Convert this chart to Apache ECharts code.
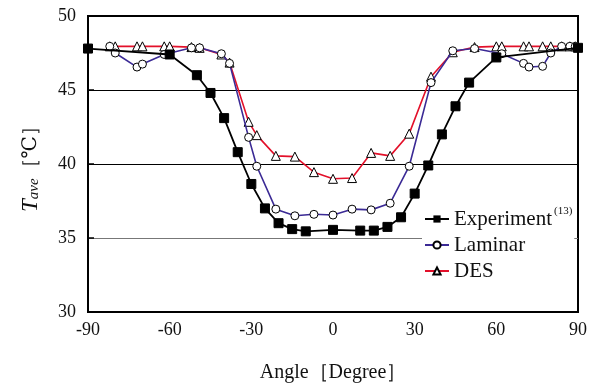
<!DOCTYPE html>
<html><head><meta charset="utf-8">
<script src="https://cdn.jsdelivr.net/npm/echarts@6/dist/echarts.min.js"></script>
<style>html,body{margin:0;padding:0;background:#fff}#c{width:590px;height:390px}</style>
</head><body><div id="c"></div>
<script>
var xTicks = [-90, -60, -30, 0, 30, 60, 90];
var yTicks = [30, 35, 40, 45, 50];

var expAngles = [-90, -60, -50, -45, -40, -35, -30, -25, -20, -15, -10, 0, 10, 15, 20, 25, 30, 35, 40, 45, 50, 60, 90];
var expValues = [47.8, 47.4, 46.0, 44.8, 43.1, 40.8, 38.65, 37.0, 36.0, 35.6, 35.45, 35.55, 35.5, 35.5, 35.75, 36.4, 38.0, 39.9, 42.0, 43.9, 45.5, 47.2, 47.85];

var lamAngles = [-82, -80, -72, -70, -62, -52, -49, -41, -38, -31, -28, -21, -14, -7, 0, 7, 14, 21, 28, 36, 44, 52, 62, 70, 72, 77, 80, 84, 87, 89];
var lamValues = [47.95, 47.5, 46.55, 46.75, 47.4, 47.85, 47.85, 47.45, 46.8, 41.8, 39.85, 36.95, 36.5, 36.6, 36.55, 36.95, 36.9, 37.35, 39.85, 45.5, 47.65, 47.8, 47.45, 46.8, 46.55, 46.6, 47.5, 47.95, 47.95, 47.95];

var desAngles = [-82, -80, -72, -70, -62, -60, -52, -49, -41, -38, -31, -28, -21, -14, -7, 0, 7, 14, 21, 28, 36, 44, 52, 60, 62, 70, 72, 77, 80, 84, 87, 89];
var desValues = [47.95, 47.95, 47.95, 47.95, 47.95, 47.95, 47.9, 47.85, 47.4, 46.85, 42.85, 41.95, 40.55, 40.5, 39.45, 39.0, 39.05, 40.75, 40.55, 42.05, 45.9, 47.55, 47.9, 47.95, 47.95, 47.95, 47.95, 47.95, 47.95, 47.95, 47.95, 47.95];

function zip(a, b) { return a.map(function (v, i) { return [v, b[i]]; }); }

var FONT = '"Liberation Serif", "DejaVu Serif", serif';
var chart = echarts.init(document.getElementById('c'), null, {renderer: 'canvas'});
chart.setOption({
  animation: false,
  backgroundColor: '#fff',
  textStyle: {fontFamily: FONT},
  grid: {left: 88, right: 7, top: 16, bottom: 78, show: true, borderColor: '#000', borderWidth: 2, backgroundColor: 'transparent'},
  legend: {
    orient: 'vertical', left: 422, top: 204, itemGap: 5,
    itemWidth: 24, itemHeight: 9, backgroundColor: '#fff', padding: [2, 2, 2, 2],
    textStyle: {fontFamily: FONT, fontSize: 21, color: '#111',
      rich: {sup: {fontFamily: FONT, fontSize: 11, color: '#111', verticalAlign: 'top', padding: [0, 0, 15, 2]}}},
    formatter: function (n) { return n === 'Experiment' ? 'Experiment{sup|(13)}' : n; },
    data: ['Experiment', 'Laminar', 'DES']
  },
  xAxis: {
    type: 'value', min: xTicks[0], max: xTicks[xTicks.length - 1], interval: 30,
    name: 'Angle［Degree］', nameLocation: 'middle', nameGap: 51,
    nameTextStyle: {fontFamily: FONT, fontSize: 20, color: '#111'},
    axisLine: {onZero: false, lineStyle: {color: '#000', width: 2}},
    axisTick: {show: false},
    splitLine: {show: false},
    axisLabel: {fontFamily: FONT, fontSize: 18, color: '#111', margin: 9}
  },
  yAxis: {
    type: 'value', min: yTicks[0], max: yTicks[yTicks.length - 1], interval: 5,
    name: '{t|T}{s|ave}{n|［℃］}', nameLocation: 'middle', nameGap: 46, nameRotate: 90,
    nameTextStyle: {rich: {
      t: {fontFamily: FONT, fontSize: 23, fontStyle: 'italic', color: '#111'},
      s: {fontFamily: FONT, fontSize: 15, fontStyle: 'italic', color: '#111', verticalAlign: 'bottom', padding: [8, 0, 0, 0]},
      n: {fontFamily: FONT, fontSize: 20, color: '#111'}
    }},
    axisLine: {onZero: false, lineStyle: {color: '#000', width: 2}},
    axisTick: {show: true, inside: true, length: 6, lineStyle: {color: '#000', width: 1.5}},
    splitLine: {show: true, lineStyle: {color: ['#000', '#777', '#000', '#000', '#000'], width: 1}},
    axisLabel: {fontFamily: FONT, fontSize: 18, color: '#111', margin: 12}
  },
  series: [
    {name: 'DES', type: 'line', data: zip(desAngles, desValues), symbol: 'triangle', symbolSize: 9, z: 3,
      lineStyle: {color: '#e3102a', width: 1.6}, itemStyle: {color: '#fff', borderColor: '#000', borderWidth: 1}},
    {name: 'Laminar', type: 'line', data: zip(lamAngles, lamValues), symbol: 'circle', symbolSize: 8, z: 4,
      lineStyle: {color: '#3b2a95', width: 1.6}, itemStyle: {color: '#fff', borderColor: '#000', borderWidth: 1}},
    {name: 'Experiment', type: 'line', data: zip(expAngles, expValues), symbol: 'rect', symbolSize: 9, z: 5,
      lineStyle: {color: '#000', width: 1.8}, itemStyle: {color: '#000', borderColor: '#000'}}
  ]
});
</script></body></html>
